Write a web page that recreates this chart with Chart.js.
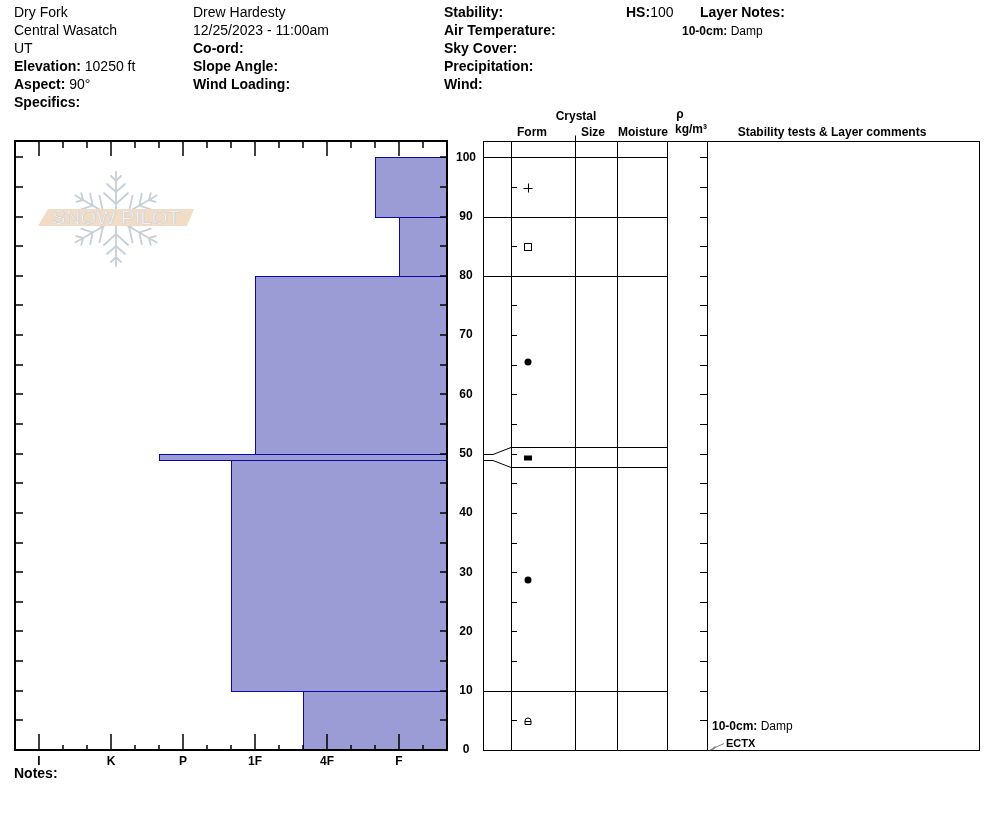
<!DOCTYPE html>
<html lang="en">
<head>
<meta charset="UTF-8">
<title>Snow profile - Dry Fork</title>
<style>
    body { margin: 0; background: #fff; font-family: Arial, "Liberation Sans", sans-serif; }
    #page { position: relative; width: 994px; height: 840px; overflow: hidden; }
    .col { position: absolute; top: 3px; font-size: 14px; line-height: 18px; white-space: nowrap; color: #000; }
    .small { font-size: 12px; }
    #logo, #profile { position: absolute; left: 0; top: 0; }
</style>
</head>
<body>
<div id="page">
    <!-- watermark -->
    <svg id="logo" width="994" height="840">
        <g transform="translate(116,219)" stroke="#c6d0d9" stroke-width="1.8" fill="none" stroke-linecap="round">
            <g id="arm">
                <path d="M0,0 L0,-47 M-5,-43 L0,-38 L5,-43 M-9,-35 L0,-27 L9,-35 M-12,-26 L0,-15 L12,-26"/>
            </g>
            <use href="#arm" transform="rotate(60)"/>
            <use href="#arm" transform="rotate(120)"/>
            <use href="#arm" transform="rotate(180)"/>
            <use href="#arm" transform="rotate(240)"/>
            <use href="#arm" transform="rotate(300)"/>
        </g>
        <polygon points="48,209 194,209 187,226 38,226" fill="#f3dcc6"/>
        <text x="52" y="224" font-family="Liberation Sans, DejaVu Sans, sans-serif" font-size="18" fill="#fff"
              stroke="#cfcfcf" stroke-width="0.7" textLength="128" lengthAdjust="spacingAndGlyphs">SNOW PILOT</text>
    </svg>

    <canvas id="profile" width="994" height="840"></canvas>

    <div class="col" style="left:14px">
        Dry Fork<br>Central Wasatch<br>UT<br>
        <b>Elevation:</b> 10250 ft<br><b>Aspect:</b> 90°<br><b>Specifics:</b>
    </div>
    <div class="col" style="left:193px">
        Drew Hardesty<br>12/25/2023 - 11:00am<br>
        <b>Co-ord:</b><br><b>Slope Angle:</b><br><b>Wind Loading:</b>
    </div>
    <div class="col" style="left:444px">
        <b>Stability:</b><br><b>Air Temperature:</b><br><b>Sky Cover:</b><br><b>Precipitation:</b><br><b>Wind:</b>
    </div>
    <div class="col" style="left:626px"><b>HS:</b>100</div>
    <div class="col" style="left:700px"><b>Layer Notes:</b></div>
    <div class="col small" style="left:682px; top:22px"><b>10-0cm:</b> Damp</div>
    <div class="col" style="left:14px; top:764px"><b>Notes:</b></div>
</div>

<script src="https://cdn.jsdelivr.net/npm/chart.js"></script>
<script>
    // hand hardness scale, F = 1 ... I = 6
    const hardnessLabels = ['F', '4F', '1F', 'P', 'K', 'I'];
    const heightTicks = [0, 10, 20, 30, 40, 50, 60, 70, 80, 90, 100];

    // layers, top to bottom (cm from ground)
    const layerTop = [100, 90, 80, 50, 49, 10];
    const layerBottom = [90, 80, 50, 49, 10, 0];
    const layerHardness = ['F+', 'F', '1F', 'P+', '1F+', '4F+'];
    const layerGrain = ['PP', 'FC', 'RG', 'FCxr', 'RG', 'MFcl'];
    const layerMoisture = ['', '', '', '', '', 'Damp'];

    const testName = 'ECTX';
    const testDepth = 0;

    const barFill = '#9b9bd6';
    const barLine = '#0a0a9c';

    function hardnessValue(code) {
        const base = code.replace(/[+-]$/, '');
        let v = hardnessLabels.indexOf(base) + 1;
        if (code.endsWith('+')) v += 1 / 3;
        if (code.endsWith('-')) v -= 1 / 3;
        return v;
    }

    function line(ctx, x1, y1, x2, y2) {
        ctx.beginPath();
        ctx.moveTo(x1, y1);
        ctx.lineTo(x2, y2);
        ctx.stroke();
    }

    function drawGrain(ctx, code, cx, cy) {
        ctx.strokeStyle = '#000';
        ctx.fillStyle = '#000';
        ctx.lineWidth = 1;
        if (code === 'PP') {
            line(ctx, cx - 4.5, cy + 0.5, cx + 4.5, cy + 0.5);
            line(ctx, cx + 0.5, cy - 4.5, cx + 0.5, cy + 4.5);
        } else if (code === 'FC') {
            ctx.strokeRect(cx - 3.5, cy - 3.5, 7, 7);
        } else if (code === 'RG') {
            ctx.beginPath();
            ctx.arc(cx, cy, 3.5, 0, Math.PI * 2);
            ctx.fill();
        } else if (code === 'FCxr') {
            ctx.fillRect(cx - 4, cy - 2.5, 8, 5);
        } else if (code === 'MFcl') {
            ctx.beginPath();
            ctx.moveTo(cx - 3, cy + 3.5);
            ctx.lineTo(cx - 3, cy);
            ctx.arc(cx, cy, 3, Math.PI, 0);
            ctx.lineTo(cx + 3, cy + 3.5);
            ctx.closePath();
            ctx.stroke();
            line(ctx, cx - 3, cy + 0.5, cx + 3, cy + 0.5);
        }
    }

    const profilePlugin = {
        id: 'profile',
        afterDraw(chart) {
            const { ctx, chartArea: a, scales: { x, y } } = chart;
            const py = v => Math.round(y.getPixelForValue(v)) + 0.5;
            ctx.save();

            // hardness bars
            layerTop.forEach((top, i) => {
                const x0 = Math.round(x.getPixelForValue(hardnessValue(layerHardness[i]))) + 0.5;
                const y0 = py(top);
                const y1 = py(layerBottom[i]);
                ctx.fillStyle = barFill;
                ctx.fillRect(x0, y0, a.right - x0, y1 - y0);
                ctx.strokeStyle = barLine;
                ctx.lineWidth = 1;
                ctx.strokeRect(x0, y0, a.right - x0, y1 - y0);
            });

            // frame + tick marks of the hardness plot
            ctx.strokeStyle = '#000';
            ctx.lineWidth = 2;
            ctx.strokeRect(a.left, a.top, a.right - a.left, a.bottom - a.top);
            ctx.lineWidth = 1.5;
            for (let k = 2; k <= 18; k++) {
                const px = Math.round(x.getPixelForValue(k / 3));
                const big = k % 3 === 0;
                line(ctx, px, a.top, px, a.top + (big ? 15 : 7));
                line(ctx, px, a.bottom, px, a.bottom - (big ? 16 : 5));
            }
            for (let h = 5; h <= 100; h += 5) {
                const p = Math.round(y.getPixelForValue(h));
                line(ctx, a.left, p, a.left + 8, p);
                line(ctx, a.right - 7, p, a.right, p);
            }

            // layer table
            const cols = [483, 511, 575, 617, 667, 707, 979];
            const tTop = a.top + 0.5, tBot = a.bottom + 0.5;
            ctx.lineWidth = 1;
            cols.forEach(cx => line(ctx, cx + 0.5, tTop, cx + 0.5, tBot));
            line(ctx, 483, tTop, 980, tTop);
            line(ctx, 483, tBot, 980, tBot);
            line(ctx, 575.5, tTop - 6, 575.5, tTop);

            // thin layers are drawn wider in the table
            const disp = b => {
                for (let i = 0; i < layerTop.length; i++) {
                    const thick = y.getPixelForValue(layerBottom[i]) - y.getPixelForValue(layerTop[i]);
                    if (thick < 20) {
                        const mid = (y.getPixelForValue(layerBottom[i]) + y.getPixelForValue(layerTop[i])) / 2;
                        if (b === layerTop[i]) return Math.round(mid - 10) + 0.5;
                        if (b === layerBottom[i]) return Math.round(mid + 10) + 0.5;
                    }
                }
                return py(b);
            };
            const bounds = [...new Set(layerTop.concat(layerBottom))].filter(b => b > 0);
            bounds.forEach(b => {
                const p = py(b), d = disp(b);
                if (p === d) {
                    line(ctx, 483, p, 667, p);
                } else {
                    ctx.beginPath();
                    ctx.moveTo(483, p);
                    ctx.lineTo(493, p);
                    ctx.lineTo(511, d);
                    ctx.lineTo(667, d);
                    ctx.stroke();
                }
            });
            for (let h = 5; h <= 100; h += 5) {
                const p = py(h);
                line(ctx, 511, p, 517, p);
                line(ctx, 700, p, 707, p);
            }
            layerGrain.forEach((g, i) => {
                const cy = (disp(layerTop[i]) + disp(layerBottom[i])) / 2;
                drawGrain(ctx, g, 528, Math.round(cy));
            });

            // table headings
            ctx.fillStyle = '#000';
            ctx.font = 'bold 12px Arial';
            ctx.textAlign = 'center';
            ctx.textBaseline = 'middle';
            ctx.fillText('Crystal', 576, 117);
            ctx.fillText('Form', 532, 133);
            ctx.fillText('Size', 593, 133);
            ctx.fillText('Moisture', 643, 133);
            ctx.fillText('\u03C1', 680, 115);
            ctx.fillText('kg/m\u00B3', 691, 130);
            ctx.fillText('Stability tests & Layer comments', 832, 133);

            // layer comments
            ctx.textAlign = 'left';
            layerMoisture.forEach((m, i) => {
                if (!m) return;
                const cy = (disp(layerTop[i]) + disp(layerBottom[i])) / 2 + 6;
                const lab = layerTop[i] + '-' + layerBottom[i] + 'cm:';
                ctx.font = 'bold 12px Arial';
                ctx.fillText(lab, 712, cy);
                const w = ctx.measureText(lab + ' ').width;
                ctx.font = '12px Arial';
                ctx.fillText(m, 712 + w, cy);
            });

            // stability test
            const ty = py(testDepth);
            ctx.font = 'bold 11px Arial';
            ctx.fillText(testName, 726, ty - 7);
            ctx.strokeStyle = '#808080';
            ctx.fillStyle = '#808080';
            line(ctx, 724, ty - 7, 713, ty - 2);
            ctx.beginPath();
            ctx.moveTo(709, ty);
            ctx.lineTo(716, ty - 5);
            ctx.lineTo(714, ty - 1);
            ctx.closePath();
            ctx.fill();

            ctx.restore();
        }
    };

    const tickFont = { family: 'Arial', size: 12, weight: 'bold' };

    new Chart(document.getElementById('profile'), {
        type: 'scatter',
        data: { datasets: [] },
        options: {
            responsive: false,
            animation: false,
            layout: { padding: { left: 15, top: 141, right: 507, bottom: 0 } },
            plugins: { legend: { display: false }, tooltip: { enabled: false } },
            scales: {
                x: {
                    type: 'linear',
                    reverse: true,
                    min: 1 / 3,
                    max: 6 + 1 / 3,
                    position: 'bottom',
                    afterBuildTicks: s => { s.ticks = hardnessLabels.map((_, i) => ({ value: i + 1 })); },
                    afterFit: s => { s.height = 90; },
                    grid: { display: false },
                    border: { display: false },
                    ticks: {
                        callback: v => hardnessLabels[v - 1],
                        color: '#000', font: tickFont, padding: -4,
                        maxRotation: 0, autoSkip: false
                    }
                },
                y: {
                    type: 'linear',
                    min: 0,
                    max: 102.75,
                    position: 'right',
                    afterBuildTicks: s => { s.ticks = heightTicks.map(v => ({ value: v })); },
                    afterFit: s => { s.width = 40; },
                    grid: { display: false },
                    border: { display: false },
                    ticks: { crossAlign: 'center', padding: 1, color: '#000', font: tickFont }
                }
            }
        },
        plugins: [profilePlugin]
    });
</script>
</body>
</html>
